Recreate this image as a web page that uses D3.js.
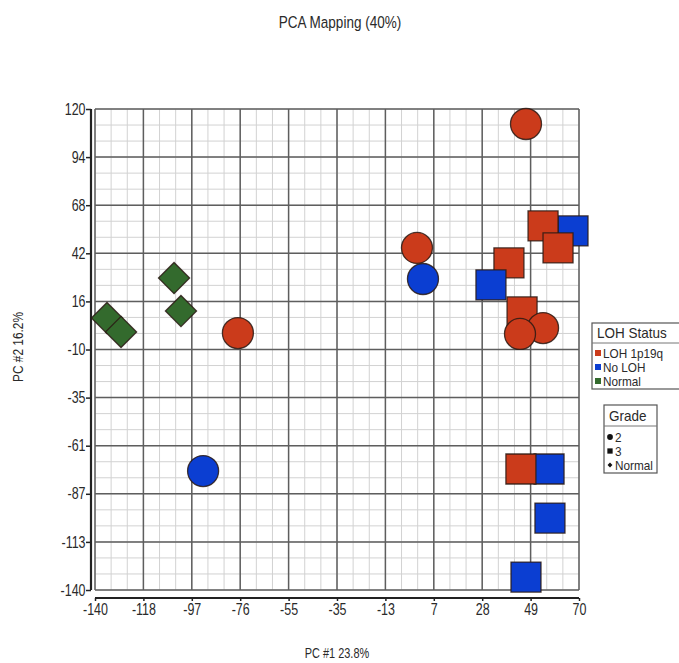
<!DOCTYPE html>
<html>
<head>
<meta charset="utf-8">
<script src="https://cdn.jsdelivr.net/npm/d3@7"></script>
<style>
  body { margin: 0; background: #fff; overflow: hidden; }
  text { font-family: "Liberation Sans", Arial, sans-serif; fill: #2a2a2a; }
</style>
</head>
<body>
<script>
// sample scores
const pc1 = [-105.7, -102.7, -134.8, -128.7,
  57.4, 47.0, 57.0,
  44.8, 67.4, 54.4, 60.9, 39.6, 31.8, 45.3,
  -93.1, 2.3, -0.3, 47.0, -78.0, 54.4, 44.4];
const pc2 = [28.6, 10.8, 7.0, -0.5,
  -101.1, -133, -74.6,
  -74.6, 54.1, 56.8, 44.9, 36.8, 24.9, 10.3,
  -75.7, 28.1, 44.9, 111.9, -1.1, 1.6, -1.6];
const loh = ["Normal", "Normal", "Normal", "Normal",
  "No LOH", "No LOH", "No LOH",
  "LOH 1p19q", "No LOH", "LOH 1p19q", "LOH 1p19q", "LOH 1p19q", "No LOH", "LOH 1p19q",
  "No LOH", "No LOH", "LOH 1p19q", "LOH 1p19q", "LOH 1p19q", "LOH 1p19q", "LOH 1p19q"];
const grade = ["Normal", "Normal", "Normal", "Normal",
  "3", "3", "3",
  "3", "3", "3", "3", "3", "3", "3",
  "2", "2", "2", "2", "2", "2", "2"];

const xTickLabels = ["-140", "-118", "-97", "-76", "-55", "-35", "-13", "7", "28", "49", "70"];
const yTickLabels = ["120", "94", "68", "42", "16", "-10", "-35", "-61", "-87", "-113", "-140"];
const lohCats = ["LOH 1p19q", "No LOH", "Normal"];
const gradeCats = ["2", "3", "Normal"];

const width = 679, height = 663;
const plot = {left: 95, right: 579, top: 109, bottom: 590};

const svg = d3.select("body").append("svg")
    .attr("width", width)
    .attr("height", height);

const x = d3.scaleLinear().domain([-140, 70]).range([plot.left, plot.right]);
const y = d3.scaleLinear().domain([-140, 120]).range([plot.bottom, plot.top]);
const color = d3.scaleOrdinal().domain(lohCats).range(["#cb3b1b", "#0b3ed2", "#336a2d"]);

const xMajor = xTickLabels.map((d, i) => -140 + i * 21);
const yMajor = yTickLabels.map((d, i) => 120 - i * 26);
const xMinor = d3.range(0, 31).map(i => -140 + i * 7);
const yMinor = d3.range(0, 31).map(i => -140 + i * 26 / 3);

// the original uses a condensed face, squeeze the text sideways
function label(g, tx, ty, size, sx, str, anchor) {
  return g.append("text")
      .attr("transform", "translate(" + tx + "," + ty + ") scale(" + sx + ",1)")
      .attr("text-anchor", anchor || "start")
      .style("font-size", size + "px")
      .text(str);
}

// grid
const grid = svg.append("g");
grid.selectAll(".vmin").data(xMinor).join("line")
    .attr("class", "vmin")
    .attr("x1", d => x(d)).attr("x2", d => x(d))
    .attr("y1", plot.top).attr("y2", plot.bottom)
    .attr("stroke", "#d2d2d2").attr("stroke-width", 1);
grid.selectAll(".hmin").data(yMinor).join("line")
    .attr("class", "hmin")
    .attr("y1", d => y(d)).attr("y2", d => y(d))
    .attr("x1", plot.left).attr("x2", plot.right)
    .attr("stroke", "#d2d2d2").attr("stroke-width", 1);
grid.selectAll(".vmaj").data(xMajor).join("line")
    .attr("class", "vmaj")
    .attr("x1", d => x(d)).attr("x2", d => x(d))
    .attr("y1", plot.top).attr("y2", plot.bottom)
    .attr("stroke", "#5e5e5e").attr("stroke-width", 1.5);
grid.selectAll(".hmaj").data(yMajor).join("line")
    .attr("class", "hmaj")
    .attr("y1", d => y(d)).attr("y2", d => y(d))
    .attr("x1", plot.left).attr("x2", plot.right)
    .attr("stroke", "#5e5e5e").attr("stroke-width", 1.5);

// axes
const xAxis = d3.axisBottom(x)
    .tickValues(xMajor)
    .tickSize(3)
    .tickFormat((d, i) => xTickLabels[i]);
const yAxis = d3.axisLeft(y)
    .tickValues(yMajor)
    .tickSize(5)
    .tickFormat((d, i) => yTickLabels[i]);

const gx = svg.append("g")
    .attr("transform", "translate(0," + 598 + ")")
    .call(xAxis);
const gy = svg.append("g")
    .attr("transform", "translate(" + 91 + ",0)")
    .call(yAxis);
[gx, gy].forEach(g => {
  g.select(".domain").attr("stroke", "#222").attr("stroke-width", 2.2);
  g.selectAll(".tick line").attr("stroke", "#222").attr("stroke-width", 1.5);
  g.selectAll(".tick text")
      .style("font-size", "16px")
      .attr("fill", "#2a2a2a")
      .attr("transform", "scale(0.78,1)");
});
gx.select(".domain").attr("d", "M" + plot.left + ",0H" + plot.right);
gy.select(".domain").attr("d", "M0," + plot.top + "V" + plot.bottom);
gx.selectAll(".tick text").attr("y", 5).attr("dy", "0.75em");
gy.selectAll(".tick text").attr("x", -7);

// points
const pts = pc1.map((d, i) => ({pc1: d, pc2: pc2[i], loh: loh[i], grade: grade[i]}));
const shape = {
  "2": d3.symbol(d3.symbolCircle, 755),
  "3": d3.symbol(d3.symbolSquare, 900),
  "Normal": d3.symbol(d3.symbolSquare, 484)
};
svg.append("g").selectAll("path").data(pts).join("path")
    .attr("d", d => shape[d.grade]())
    .attr("transform", d => "translate(" + x(d.pc1) + "," + y(d.pc2) + ")" + (d.grade === "Normal" ? " rotate(45)" : ""))
    .attr("fill", d => color(d.loh))
    .attr("stroke", "#2a1a14")
    .attr("stroke-opacity", 0.85)
    .attr("stroke-width", 1.3);

// titles
label(svg, 340, 28, 16.5, 0.82, "PCA Mapping (40%)", "middle");
label(svg, 337, 658, 14, 0.78, "PC #1 23.8%", "middle");
svg.append("text")
    .attr("transform", "translate(23,347) rotate(-90) scale(0.82,1)")
    .attr("text-anchor", "middle")
    .style("font-size", "14.5px")
    .text("PC #2 16.2%");

// legend: LOH Status
const lg1 = svg.append("g").attr("transform", "translate(592,323)");
lg1.append("rect").attr("width", 94).attr("height", 66)
    .attr("fill", "#fff").attr("stroke", "#555").attr("stroke-width", 1.2);
lg1.append("line").attr("x1", 0).attr("x2", 94).attr("y1", 20).attr("y2", 20)
    .attr("stroke", "#777").attr("stroke-width", 1);
label(lg1, 5, 15, 15, 0.9, "LOH Status");
const li1 = lg1.selectAll(".item").data(lohCats).join("g")
    .attr("class", "item")
    .attr("transform", (d, i) => "translate(0," + (30 + i * 14) + ")");
li1.append("rect").attr("x", 3).attr("y", -3).attr("width", 6).attr("height", 6)
    .attr("fill", d => color(d));
li1.each(function(d) { label(d3.select(this), 11, 4.5, 12, 0.98, d); });

// legend: Grade
const lg2 = svg.append("g").attr("transform", "translate(604,405)");
lg2.append("rect").attr("width", 53).attr("height", 68)
    .attr("fill", "#fff").attr("stroke", "#555").attr("stroke-width", 1.2);
lg2.append("line").attr("x1", 0).attr("x2", 53).attr("y1", 21).attr("y2", 21)
    .attr("stroke", "#777").attr("stroke-width", 1);
label(lg2, 5, 16, 15, 0.9, "Grade");
const legShape = {
  "2": d3.symbol(d3.symbolCircle, 26),
  "3": d3.symbol(d3.symbolSquare, 28),
  "Normal": d3.symbol(d3.symbolSquare, 12)
};
const li2 = lg2.selectAll(".item").data(gradeCats).join("g")
    .attr("class", "item")
    .attr("transform", (d, i) => "translate(0," + (32 + i * 14) + ")");
li2.append("path")
    .attr("d", d => legShape[d]())
    .attr("transform", d => "translate(6,0)" + (d === "Normal" ? " rotate(45)" : ""))
    .attr("fill", "#111");
li2.each(function(d) { label(d3.select(this), 11, 4.5, 12, 0.98, d); });
</script>
</body>
</html>
